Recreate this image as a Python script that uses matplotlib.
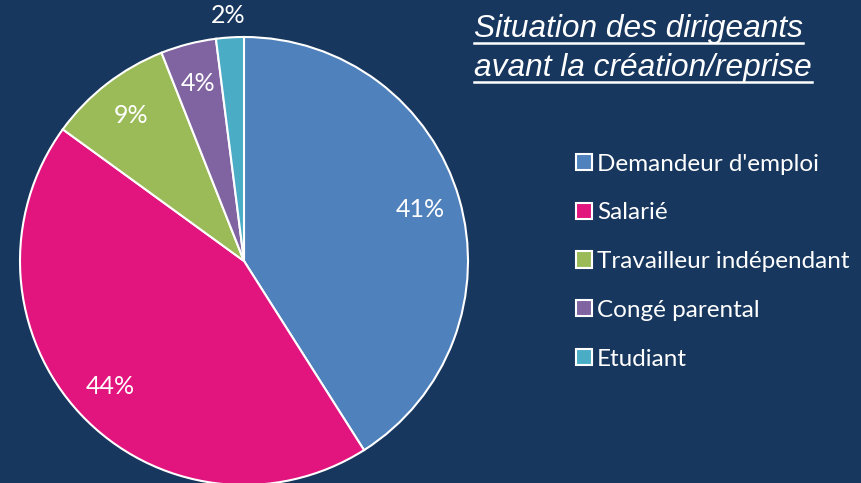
import matplotlib.pyplot as plt
from matplotlib.patches import Patch

# data
categories = ["Demandeur d'emploi", "Salarié", "Travailleur indépendant", "Congé parental", "Etudiant"]
values = [41, 44, 9, 4, 2]
colors = ["#4F81BD", "#E2147D", "#9BBB59", "#8064A2", "#4BACC6"]
title_lines = ["Situation des dirigeants", "avant la création/reprise"]

bg = "#17375E"
W, H = 861, 483
fig = plt.figure(figsize=(W / 100, H / 100), dpi=100, facecolor=bg)

# pie axes: centre (244, 261) px, radius 224 px
cx, cy, r = 244, 261, 224
ax = fig.add_axes([(cx - r) / W, (H - cy - r) / H, 2 * r / W, 2 * r / H])
ax.set_facecolor(bg)
wedges, texts, autotexts = ax.pie(values, colors=colors, startangle=90, counterclock=False,
                                  autopct="%d%%", pctdistance=0.82,
                                  wedgeprops=dict(edgecolor="white", linewidth=1.5),
                                  textprops=dict(color="white", fontsize=18, family="Lato"))
# small slice label sits outside the pie
x, y = autotexts[-1].get_position()
autotexts[-1].set_position((x / 0.82 * 1.1, y / 0.82 * 1.1))
ax.set_xlim(-1, 1)
ax.set_ylim(-1, 1)
ax.set_aspect("equal")
ax.axis("off")

# legend
handles = [Patch(facecolor=c, edgecolor="white", linewidth=1.5) for c in colors]
leg = fig.legend(handles, categories, loc="upper left", bbox_to_anchor=(566 / W, 1 - 144 / H),
                 frameon=False, labelcolor="white", prop=dict(family="Lato", size=17.5),
                 handlelength=0.65, handleheight=0.65, handletextpad=0.22, labelspacing=1.14,
                 borderaxespad=0)

# title with underline
fig.canvas.draw()
renderer = fig.canvas.get_renderer()
for i, line in enumerate(title_lines):
    t = fig.text(474 / W, 1 - (29 + 39 * i) / H, line, color="white", fontsize=22.8,
                 style="italic", family="Liberation Sans", va="center", ha="left")
    bb = t.get_window_extent(renderer)
    yline = (H - (43 + 39 * i)) / H
    fig.add_artist(plt.Line2D([bb.x0 / W, bb.x1 / W], [yline, yline], color="white",
                              linewidth=1.8, transform=fig.transFigure))

fig.savefig("out.png", dpi=100, facecolor=bg)
